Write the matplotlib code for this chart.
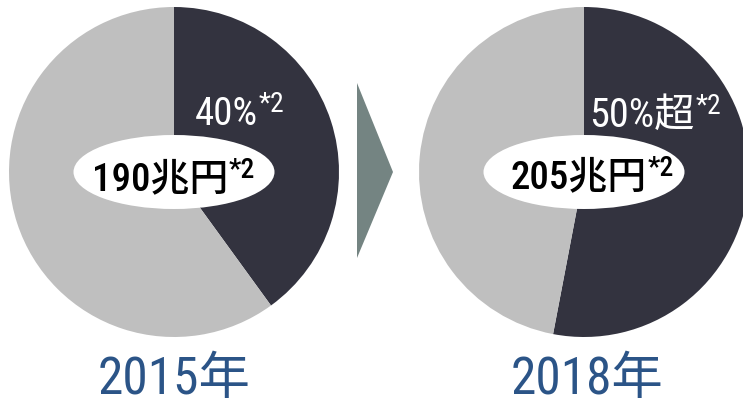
import matplotlib
matplotlib.use("Agg")
import matplotlib.pyplot as plt
from matplotlib.patches import Ellipse, Polygon
from matplotlib import font_manager

names = {f.name for f in font_manager.fontManager.ttflist}
narrow = [n for n in ['Roboto Condensed', 'Liberation Sans Narrow', 'Open Sans Condensed',
                      'DejaVu Sans Condensed'] if n in names]
plt.rcParams['font.family'] = narrow[:1] + ['Noto Sans CJK JP', 'DejaVu Sans']

years = ['2015年', '2018年']
share_pct = [40, 53]
share_labels = ['40%', '50%超']
market_totals = ['190兆円', '205兆円']
footnote = '*2'

dark = '#33333f'
light = '#bfbfbf'
arrow_col = '#748482'
blue = '#2b5487'

W, H = 743, 405
fig = plt.figure(figsize=(W / 100, H / 100), dpi=100)
ax = fig.add_axes([0, 0, 1, 1])

centers = [(174, 233), (584, 233)]
R = 165

for i, (cx, cy) in enumerate(centers):
    ax.pie([share_pct[i], 100 - share_pct[i]], colors=[dark, light],
           startangle=90, counterclock=False, radius=R, center=(cx, cy),
           wedgeprops=dict(linewidth=0))
    ax.add_patch(Ellipse((cx, cy), 201, 74, facecolor='white', edgecolor='none', zorder=3))

share_split = [258, 695]
share_base = [405 - 125, 405 - 127]
total_split = [228, 647]
total_base = [405 - 190, 405 - 188]
year_x = [174, 587]
share_size = [28, 29]

for i in range(2):
    ax.text(share_split[i], share_base[i], share_labels[i], color='white',
            fontsize=share_size[i], fontweight='normal', ha='right', va='baseline', zorder=4)
    ax.text(share_split[i] + 1, share_base[i] + 13, footnote, color='white',
            fontsize=20, fontweight='normal', ha='left', va='baseline', zorder=4)
    ax.text(total_split[i], total_base[i], market_totals[i], color='black',
            fontsize=28, fontweight=500, ha='right', va='baseline', zorder=4)
    ax.text(total_split[i] + 1, total_base[i] + 12, footnote, color='black',
            fontsize=20, fontweight=500, ha='left', va='baseline', zorder=4)
    ax.text(year_x[i], 405 - 394, years[i], color=blue,
            fontsize=37, ha='center', va='baseline', zorder=4)

ax.add_patch(Polygon([(357, 405 - 83), (393, 405 - 172), (357, 405 - 258)],
                     closed=True, facecolor=arrow_col, edgecolor='none'))

ax.set_xlim(0, W)
ax.set_ylim(0, H)
ax.set_aspect('equal')
ax.axis('off')
fig.savefig('out.png', dpi=100)
